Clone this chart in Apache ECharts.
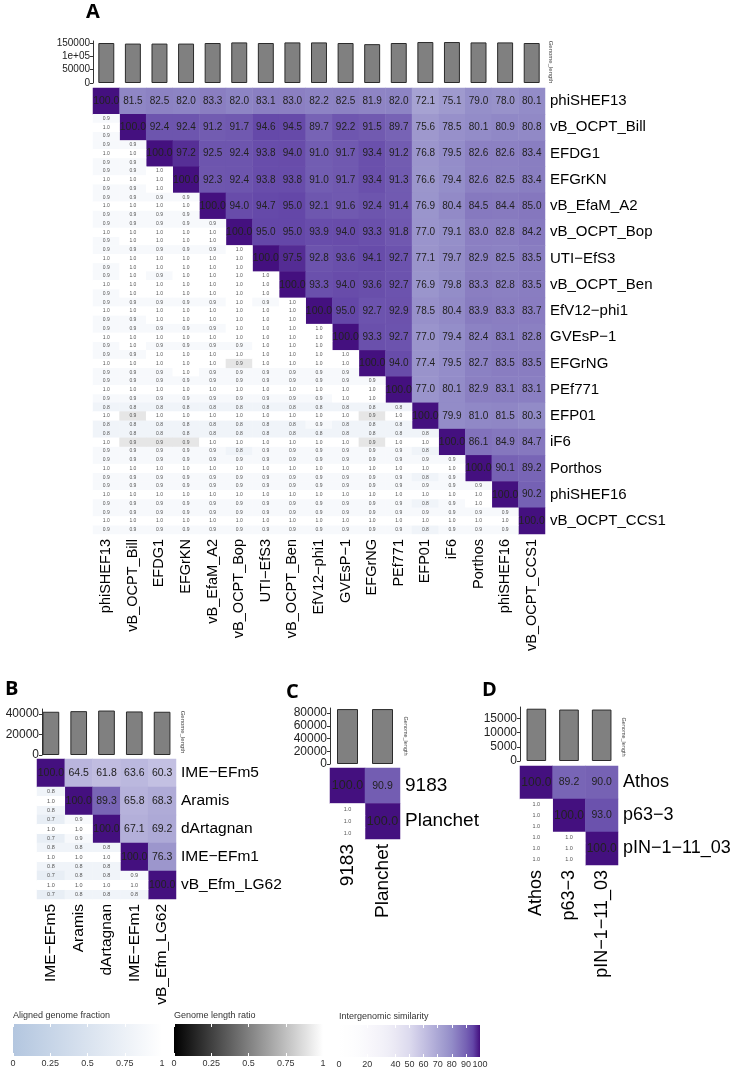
<!DOCTYPE html>
<html><head><meta charset="utf-8">
<script src="https://cdn.jsdelivr.net/npm/echarts@6/dist/echarts.min.js"></script>
<style>html,body{margin:0;padding:0;background:#fff}#c{width:734px;height:1072px}</style>
</head><body><div id="c"></div><script>
// ===== Panel A data =====
const namesA = ['phiSHEF13','vB_OCPT_Bill','EFDG1','EFGrKN','vB_EfaM_A2','vB_OCPT_Bop','UTI\u2212EfS3','vB_OCPT_Ben','EfV12\u2212phi1','GVEsP\u22121','EFGrNG','PEf771','EFP01','iF6','Porthos','phiSHEF16','vB_OCPT_CCS1'];
const lengthsA = [150000,147800,147800,147800,150000,152200,150000,152200,152200,150000,145700,150000,153600,153600,152200,152200,150000];
const lengthTicksA = [0,50000,100000,150000];
// upper triangle: row i, starting at the diagonal
const simA = [
 [100.0,81.5,82.5,82.0,83.3,82.0,83.1,83.0,82.2,82.5,81.9,82.0,72.1,75.1,79.0,78.0,80.1],
 [100.0,92.4,92.4,91.2,91.7,94.6,94.5,89.7,92.2,91.5,89.7,75.6,78.5,80.1,80.9,80.8],
 [100.0,97.2,92.5,92.4,93.8,94.0,91.0,91.7,93.4,91.2,76.8,79.5,82.6,82.6,83.4],
 [100.0,92.3,92.4,93.8,93.8,91.0,91.7,93.4,91.3,76.6,79.4,82.6,82.5,83.4],
 [100.0,94.0,94.7,95.0,92.1,91.6,92.4,91.4,76.9,80.4,84.5,84.4,85.0],
 [100.0,95.0,95.0,93.9,94.0,93.3,91.8,77.0,79.1,83.0,82.8,84.2],
 [100.0,97.5,92.8,93.6,94.1,92.7,77.1,79.7,82.9,82.5,83.5],
 [100.0,93.3,94.0,93.6,92.7,76.9,79.8,83.3,82.8,83.5],
 [100.0,95.0,92.7,92.9,78.5,80.4,83.9,83.3,83.7],
 [100.0,93.3,92.7,77.0,79.4,82.4,83.1,82.8],
 [100.0,94.0,77.4,79.5,82.7,83.5,83.5],
 [100.0,77.0,80.1,82.9,83.1,83.1],
 [100.0,79.9,81.0,81.5,80.3],
 [100.0,86.1,84.9,84.7],
 [100.0,90.1,89.2],
 [100.0,90.2],
 [100.0]
];
// lower triangle: row i, columns 0..i-1 (top: aligned fraction, mid: length ratio, bottom: aligned fraction)
const afRowA = [
 [],[0.9],[0.9,0.9],[0.9,0.9,1.0],[0.9,0.9,0.9,0.9],[0.9,0.9,0.9,0.9,0.9],
 [0.9,0.9,0.9,0.9,0.9,1.0],
 [0.9,1.0,0.9,1.0,1.0,1.0,1.0],
 [0.9,0.9,0.9,0.9,0.9,1.0,0.9,1.0],
 [0.9,0.9,0.9,0.9,0.9,1.0,1.0,1.0,1.0],
 [0.9,0.9,1.0,1.0,1.0,1.0,1.0,1.0,1.0,1.0],
 [0.9,0.9,0.9,0.9,0.9,0.9,0.9,0.9,0.9,0.9,0.9],
 [0.8,0.8,0.8,0.8,0.8,0.8,0.8,0.8,0.8,0.8,0.8,0.8],
 [0.8,0.8,0.8,0.8,0.8,0.8,0.8,0.8,0.8,0.8,0.8,0.8,0.8],
 [0.9,0.9,0.9,0.9,0.9,0.9,0.9,0.9,0.9,0.9,0.9,0.9,0.9,0.9],
 [0.9,0.9,0.9,0.9,0.9,0.9,0.9,0.9,0.9,0.9,0.9,0.9,0.9,0.9,0.9],
 [0.9,0.9,0.9,0.9,0.9,0.9,0.9,0.9,0.9,0.9,0.9,0.9,0.9,0.9,0.9,0.9]
];
const ratioA = [
 [],[1.0],[1.0,1.0],[1.0,1.0,1.0],[1.0,1.0,1.0,1.0],[1.0,1.0,1.0,1.0,1.0],
 [1.0,1.0,1.0,1.0,1.0,1.0],
 [1.0,1.0,1.0,1.0,1.0,1.0,1.0],
 [1.0,1.0,1.0,1.0,1.0,1.0,1.0,1.0],
 [1.0,1.0,1.0,1.0,1.0,1.0,1.0,1.0,1.0],
 [1.0,1.0,1.0,1.0,1.0,0.9,1.0,1.0,1.0,1.0],
 [1.0,1.0,1.0,1.0,1.0,1.0,1.0,1.0,1.0,1.0,1.0],
 [1.0,0.9,1.0,1.0,1.0,1.0,1.0,1.0,1.0,1.0,0.9,1.0],
 [1.0,0.9,0.9,0.9,1.0,1.0,1.0,1.0,1.0,1.0,0.9,1.0,1.0],
 [1.0,1.0,1.0,1.0,1.0,1.0,1.0,1.0,1.0,1.0,1.0,1.0,1.0,1.0],
 [1.0,1.0,1.0,1.0,1.0,1.0,1.0,1.0,1.0,1.0,1.0,1.0,1.0,1.0,1.0],
 [1.0,1.0,1.0,1.0,1.0,1.0,1.0,1.0,1.0,1.0,1.0,1.0,1.0,1.0,1.0,1.0]
];
const afColA = [
 [],[0.9],[0.9,0.9],[0.9,0.9,1.0],[0.9,0.9,0.9,0.9],[0.9,1.0,1.0,1.0,1.0],
 [0.9,1.0,1.0,1.0,1.0,1.0],
 [0.9,1.0,1.0,1.0,1.0,1.0,1.0],
 [0.9,0.9,1.0,1.0,1.0,1.0,1.0,1.0],
 [0.9,1.0,0.9,0.9,0.9,0.9,1.0,1.0,1.0],
 [0.9,0.9,0.9,1.0,0.9,0.9,0.9,0.9,0.9,0.9],
 [0.9,0.9,0.9,0.9,0.9,0.9,0.9,0.9,0.9,1.0,1.0],
 [0.8,0.8,0.8,0.8,0.8,0.8,0.8,0.8,0.9,0.8,0.8,0.8],
 [0.9,0.9,0.9,0.9,0.9,0.8,0.9,0.9,0.9,0.9,0.9,0.9,0.8],
 [0.9,0.9,0.9,0.9,0.9,0.9,0.9,0.9,0.9,0.9,0.9,0.9,0.8,0.9],
 [0.9,0.9,0.9,0.9,0.9,0.9,0.9,0.9,0.9,0.9,0.9,0.9,0.8,0.9,1.0],
 [0.9,0.9,0.9,0.9,0.9,0.9,0.9,0.9,0.9,0.9,0.9,0.9,0.8,0.9,0.9,0.9]
];

// ===== Panel B data =====
const namesB = ['IME\u2212EFm5','Aramis','dArtagnan','IME\u2212EFm1','vB_Efm_LG62'];
const lengthsB = [42300,42900,43500,42600,42300];
const lengthTicksB = [0,20000,40000];
const simB = [[100.0,64.5,61.8,63.6,60.3],[100.0,89.3,65.8,68.3],[100.0,67.1,69.2],[100.0,76.3],[100.0]];
const afRowB = [[],[0.8],[0.7,0.9],[0.8,0.8,0.8],[0.7,0.8,0.8,0.9]];
const ratioB = [[],[1.0],[1.0,1.0],[1.0,1.0,1.0],[1.0,1.0,1.0,1.0]];
const afColB = [[],[0.8],[0.7,0.9],[0.8,0.8,0.8],[0.7,0.8,0.8,0.8]];

// ===== Panel C data =====
const namesC = ['9183','Planchet'];
const lengthsC = [86300,86300];
const lengthTicksC = [0,20000,40000,60000,80000];
const simC = [[100.0,90.9],[100.0]];
const afRowC = [[],[1.0]];
const ratioC = [[],[1.0]];
const afColC = [[],[1.0]];

// ===== Panel D data =====
const namesD = ['Athos','p63\u22123','pIN\u22121\u221211_03'];
const lengthsD = [18400,18100,18100];
const lengthTicksD = [0,5000,10000,15000];
const simD = [[100.0,89.2,90.0],[100.0,93.0],[100.0]];
const afRowD = [[],[1.0],[1.0,1.0]];
const ratioD = [[],[1.0],[1.0,1.0]];
const afColD = [[],[1.0],[1.0,1.0]];

// ===== Legend scales =====
const afTicks = [0,0.25,0.5,0.75,1];
const ratioTicks = [0,0.25,0.5,0.75,1];
const simTicks = [0,20,40,50,60,70,80,90,100];

// colour ramps (styles)
const purpleRamp = ['#ffffff','#fefefe','#fdfdfe','#fbfbfd','#f9f8fc','#f6f5fa','#f3f2f9','#efeef7','#eae8f4','#e3e1f1','#dcdaee','#d0cde8','#c4c1e2','#b8b4dc','#aba7d5','#9f9ace','#938cc8','#8577be','#7662b4','#6447a8','#44107f'];
const blueRamp = ['#b3c6df','#ffffff'];
const grayRamp = ['#000000','#ffffff'];

const FONT = 'Liberation Sans, Arial, sans-serif';
const grids = [], xAxes = [], yAxes = [], series = [], graphics = [];
const simIdx = [], afIdx = [], ratioIdx = [];

function buildPanel(p) {
  const n = p.names.length;
  const gb = grids.length;
  grids.push(p.bar);
  grids.push(p.heat);
  const gh = gb + 1;
  // bar axes
  xAxes.push({gridIndex: gb, type: 'category', data: p.names, show: false});
  const xb = xAxes.length - 1;
  yAxes.push({gridIndex: gb, type: 'value', min: 0, max: p.yMax, offset: p.axisOffset || 0,
    splitLine: {show: false},
    axisLine: {show: true, lineStyle: {color: '#333', width: 1}},
    axisTick: {show: true, length: 3, customValues: p.ticks, lineStyle: {color: '#333'}},
    axisLabel: {customValues: p.ticks, fontSize: p.axisFont, color: '#222', margin: 3, fontFamily: FONT,
      showMinLabel: true, showMaxLabel: true, hideOverlap: false,
      formatter: v => v === 100000 ? '1e+05' : String(v)}});
  const yb = yAxes.length - 1;
  series.push({type: 'bar', xAxisIndex: xb, yAxisIndex: yb, data: p.lengths, barWidth: '60%',
    itemStyle: {color: '#808080', borderColor: '#2b2b2b', borderWidth: 1}, silent: true});
  // heat axes
  xAxes.push({gridIndex: gh, type: 'category', data: p.names, position: 'bottom',
    axisLine: {show: false}, axisTick: {show: false}, splitLine: {show: false},
    axisLabel: {interval: 0, rotate: 90, fontSize: p.colFont, color: '#000', margin: 5, fontFamily: FONT}});
  const xh = xAxes.length - 1;
  yAxes.push({gridIndex: gh, type: 'category', data: p.names, inverse: true, position: 'right',
    axisLine: {show: false}, axisTick: {show: false}, splitLine: {show: false},
    axisLabel: {interval: 0, fontSize: p.rowFont, color: '#000', margin: 5, fontFamily: FONT}});
  const yh = yAxes.length - 1;
  const sub = [];
  for (let i = 0; i < n; i++) for (let s = 0; s < 3; s++) sub.push(p.names[i] + '#' + s);
  yAxes.push({gridIndex: gh, type: 'category', data: sub, inverse: true, show: false});
  const ys = yAxes.length - 1;

  const upper = [];
  p.sim.forEach((row, i) => row.forEach((v, k) => {
    const j = i + k;
    const item = {value: [j, i, v]};
    if (k === 0) item.label = {fontSize: p.diagFont};
    upper.push(item);
  }));
  const af = [], ratio = [];
  for (let i = 0; i < n; i++) {
    for (let j = 0; j < i; j++) {
      af.push([j, 3 * i, p.afRow[i][j]]);
      ratio.push([j, 3 * i + 1, p.ratio[i][j]]);
      af.push([j, 3 * i + 2, p.afCol[i][j]]);
    }
  }
  const fmt = q => q.value[2].toFixed(1);
  series.push({type: 'heatmap', xAxisIndex: xh, yAxisIndex: yh, data: upper, silent: true,
    emphasis: {disabled: true},
    label: {show: true, formatter: fmt, fontSize: p.valFont, color: '#222', fontFamily: FONT}});
  simIdx.push(series.length - 1);
  series.push({type: 'heatmap', xAxisIndex: xh, yAxisIndex: ys, data: af, silent: true,
    emphasis: {disabled: true},
    label: {show: true, formatter: fmt, fontSize: p.subFont, color: '#555', fontFamily: FONT}});
  afIdx.push(series.length - 1);
  series.push({type: 'heatmap', xAxisIndex: xh, yAxisIndex: ys, data: ratio, silent: true,
    emphasis: {disabled: true},
    label: {show: true, formatter: fmt, fontSize: p.subFont, color: '#555', fontFamily: FONT}});
  ratioIdx.push(series.length - 1);

  // panel letter
  graphics.push({type: 'text', x: p.letter[0], y: p.letter[1],
    style: {text: p.letter[2], font: 'bold 20px "Open Sans", "Liberation Sans", sans-serif', fill: '#000', textVerticalAlign: 'middle'}});
  // Genome_length caption
  graphics.push({type: 'text', x: p.cap[0], y: p.cap[1], rotation: -Math.PI / 2,
    style: {text: 'Genome_length', font: p.capFont + 'px ' + FONT, fill: '#444', textAlign: 'center', textVerticalAlign: 'middle'}});
}

buildPanel({names: namesA, lengths: lengthsA, ticks: lengthTicksA, sim: simA, afRow: afRowA, ratio: ratioA, afCol: afColA,
  bar: {left: 93, top: 41, width: 452, height: 42}, heat: {left: 93, top: 88, width: 452, height: 446},
  yMax: 157500, axisFont: 10, rowFont: 15, colFont: 14.5, valFont: 10, diagFont: 10.5, subFont: 5,
  letter: [86, 12, 'A'], cap: [551, 62], capFont: 6});
buildPanel({names: namesB, lengths: lengthsB, ticks: lengthTicksB, sim: simB, afRow: afRowB, ratio: ratioB, afCol: afColB,
  bar: {left: 37, top: 709, width: 139, height: 46}, heat: {left: 37, top: 759, width: 139, height: 140},
  yMax: 45000, axisOffset: -5, axisFont: 12, rowFont: 15.5, colFont: 15.5, valFont: 10.5, diagFont: 10.5, subFont: 5.5,
  letter: [5, 689, 'B'], cap: [183, 732], capFont: 6});
buildPanel({names: namesC, lengths: lengthsC, ticks: lengthTicksC, sim: simC, afRow: afRowC, ratio: ratioC, afCol: afColC,
  bar: {left: 330, top: 708, width: 70, height: 56}, heat: {left: 330, top: 768, width: 70, height: 71},
  yMax: 88000, axisFont: 12, rowFont: 19, colFont: 19, valFont: 10.5, diagFont: 12.5, subFont: 5.5,
  letter: [286, 692, 'C'], cap: [406, 736], capFont: 5.5});
buildPanel({names: namesD, lengths: lengthsD, ticks: lengthTicksD, sim: simD, afRow: afRowD, ratio: ratioD, afCol: afColD,
  bar: {left: 520, top: 707, width: 98, height: 54}, heat: {left: 520, top: 766, width: 98, height: 99},
  yMax: 19000, axisFont: 12, rowFont: 18, colFont: 18, valFont: 10.5, diagFont: 12, subFont: 5.5,
  letter: [482, 690, 'D'], cap: [624, 737], capFont: 5.5});

// ===== Legends =====
function stopsFrom(ramp) { return ramp.map((c, i) => ({offset: i / (ramp.length - 1), color: c})); }
function addLegend(box, min, max, ticks, ramp, title) {
  const gi = grids.length;
  grids.push(box);
  xAxes.push({gridIndex: gi, type: 'value', min: min, max: max, position: 'bottom', z: 10,
    axisLine: {show: false}, splitLine: {show: false},
    axisTick: {show: true, inside: true, length: 3, customValues: ticks, lineStyle: {color: '#fff'}},
    axisLabel: {customValues: ticks, fontSize: 9, color: '#333', margin: 3, fontFamily: FONT,
      showMinLabel: true, showMaxLabel: true, hideOverlap: false}});
  const xi = xAxes.length - 1;
  xAxes.push({gridIndex: gi, type: 'value', min: min, max: max, position: 'top', z: 10,
    axisLine: {show: false}, splitLine: {show: false}, axisLabel: {show: false},
    axisTick: {show: true, inside: true, length: 3, customValues: ticks, lineStyle: {color: '#fff'}}});
  yAxes.push({gridIndex: gi, type: 'value', min: 0, max: 1, show: false});
  const yi = yAxes.length - 1;
  series.push({type: 'custom', xAxisIndex: xi, yAxisIndex: yi, data: [[min, max]], silent: true, z: 1,
    renderItem: (params, api) => {
      const a = api.coord([api.value(0), 1]);
      const b = api.coord([api.value(1), 0]);
      return {type: 'rect', shape: {x: a[0], y: a[1], width: b[0] - a[0], height: b[1] - a[1]},
        style: {fill: new echarts.graphic.LinearGradient(0, 0, 1, 0, stopsFrom(ramp))}};
    }});
  graphics.push({type: 'text', x: box.left, y: box.top - 4,
    style: {text: title, font: '9px ' + FONT, fill: '#333', textVerticalAlign: 'bottom'}});
}
addLegend({left: 13, top: 1024, width: 149, height: 32}, 0, 1, afTicks, blueRamp, 'Aligned genome fraction');
addLegend({left: 174, top: 1024, width: 149, height: 32}, 0, 1, ratioTicks, grayRamp, 'Genome length ratio');
addLegend({left: 339, top: 1025, width: 141, height: 32}, 0, 100, simTicks, purpleRamp, 'Intergenomic similarity');

const option = {
  animation: false,
  backgroundColor: '#fff',
  grid: grids,
  xAxis: xAxes,
  yAxis: yAxes,
  visualMap: [
    {type: 'continuous', show: false, min: 0, max: 100, dimension: 2, seriesIndex: simIdx, inRange: {color: purpleRamp}},
    {type: 'continuous', show: false, min: 0, max: 1, dimension: 2, seriesIndex: afIdx, inRange: {color: blueRamp}},
    {type: 'continuous', show: false, min: 0, max: 1, dimension: 2, seriesIndex: ratioIdx, inRange: {color: grayRamp}}
  ],
  series: series,
  graphic: graphics
};
const chart = echarts.init(document.getElementById('c'), null, {renderer: 'canvas'});
chart.setOption(option);
</script></body></html>
